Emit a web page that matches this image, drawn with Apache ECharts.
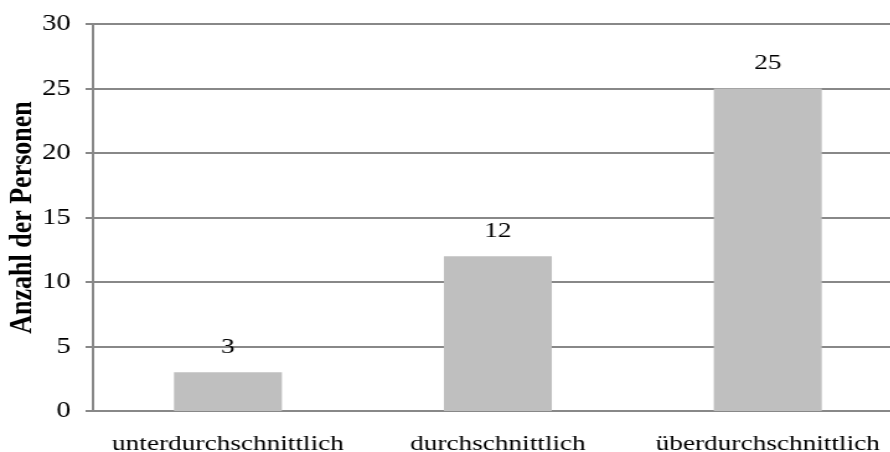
<!DOCTYPE html>
<html>
<head>
<meta charset="utf-8">
<script src="https://cdn.jsdelivr.net/npm/echarts@6/dist/echarts.min.js"></script>
<style>
  html, body { margin: 0; padding: 0; background: #fff; overflow: hidden; }
  /* the chart is drawn narrower and widened with a horizontal scale */
  #chart { width: 718px; height: 452px; transform: scaleX(1.24); transform-origin: 0 0; }
</style>
</head>
<body>
<div id="chart"></div>
<script>
// Einstufung der Personen
const categories = ['unterdurchschnittlich', 'durchschnittlich', 'überdurchschnittlich'];
const counts = [3, 12, 25];
const yTicks = { min: 0, max: 30, interval: 5 };
const yAxisTitle = 'Anzahl der Personen';

const serif = '"Liberation Serif", "Times New Roman", serif';
const gray = '#888888';

const chart = echarts.init(document.getElementById('chart'), null, { renderer: 'canvas' });
chart.setOption({
  animation: false,
  backgroundColor: '#ffffff',
  grid: {
    left: 75, right: -10, top: 24, bottom: 41,
    containLabel: false,
    outerBoundsMode: 'none'
  },
  xAxis: {
    type: 'category',
    data: categories,
    axisLine: { show: true, lineStyle: { color: gray, width: 2 } },
    axisTick: { show: false },
    axisLabel: { interval: 0, hideOverlap: false, color: '#000', fontFamily: serif, fontSize: 22, margin: 22 },
    splitLine: { show: false }
  },
  yAxis: {
    type: 'value',
    min: yTicks.min,
    max: yTicks.max,
    interval: yTicks.interval,
    name: yAxisTitle,
    nameLocation: 'middle',
    nameGap: 44,
    nameMoveOverlap: false,
    nameRotate: 90,
    nameTextStyle: { color: '#000', fontFamily: serif, fontSize: 26, fontWeight: 'bold' },
    axisLine: { show: true, lineStyle: { color: gray, width: 2 } },
    axisTick: { show: true, length: 6, lineStyle: { color: gray, width: 2 } },
    axisLabel: { color: '#000', fontFamily: serif, fontSize: 23, margin: 18 },
    splitLine: { show: true, lineStyle: { color: gray, width: 2 } }
  },
  series: [{
    type: 'bar',
    data: counts,
    barWidth: '40%',
    itemStyle: { color: '#bfbfbf' },
    label: {
      show: true,
      position: 'top',
      distance: 14,
      color: '#000',
      fontFamily: serif,
      fontSize: 22
    }
  }]
});
</script>
</body>
</html>
